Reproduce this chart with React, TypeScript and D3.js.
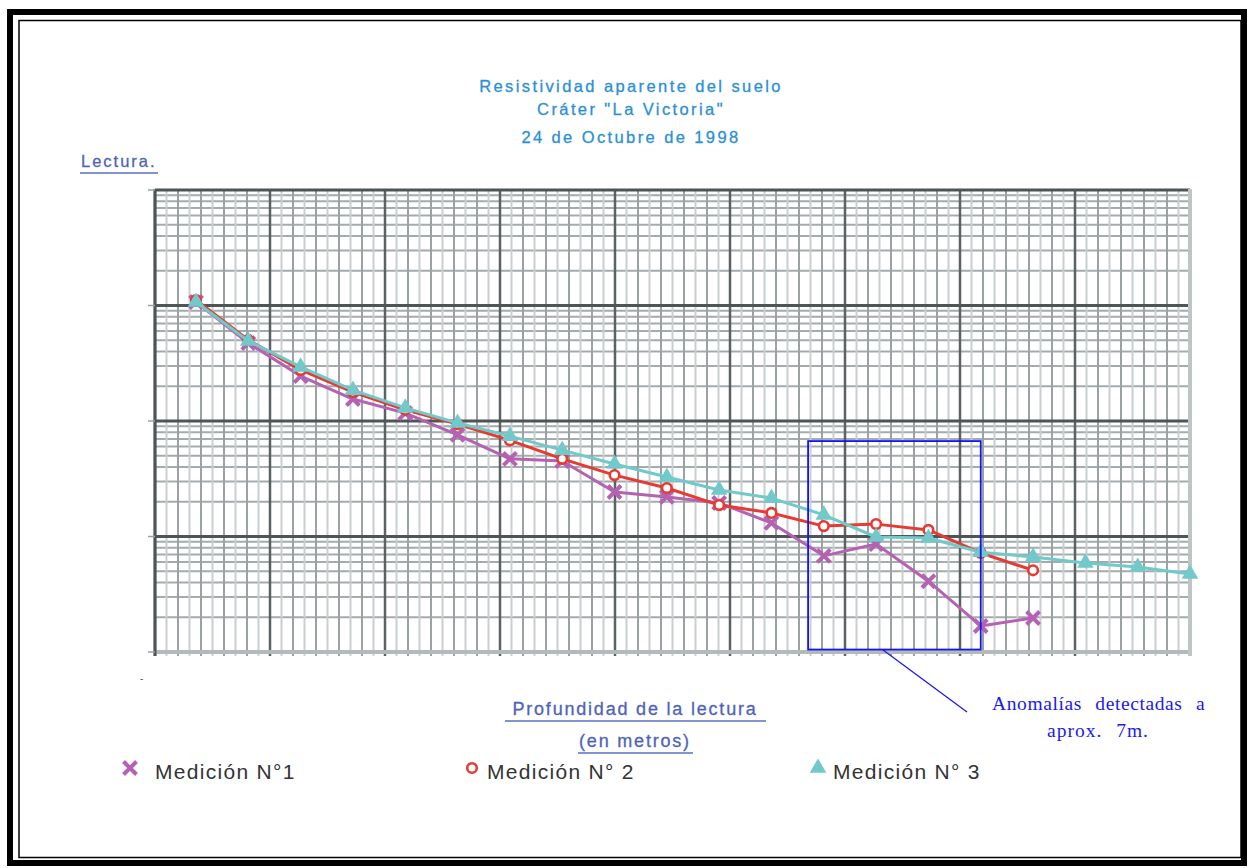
import * as d3 from "d3";

// depth of each reading (m)
const depths = [0.5, 1, 1.5, 2, 2.5, 3, 3.5, 4, 4.5, 5, 5.5, 6, 6.5, 7, 7.5, 8, 8.5, 9, 9.5, 10];

// apparent resistivity readings
const medicion1 = [1072, 473, 245, 155, 117, 76, 47, 45, 24.3, 22, 19.5, 13.1, 6.8, 8.6, 4.1, 1.68, 1.97];
const medicion2 = [1116, 503, 277, 178, 125, 94, 68, 47, 34, 26.3, 18.7, 16, 12.3, 12.8, 11.4, 7.2, 5.1];
const medicion3 = [1072, 493, 294, 185, 130, 96, 74, 56, 42.4, 32.7, 25.3, 21.5, 15.4, 9.9, 9.7, 7.3, 6.65, 5.9, 5.44, 4.73];

const seriesNames = ["Medición N°1", "Medición N° 2", "Medición N° 3"];
const titleLines = ["Resistividad aparente del suelo", "Cráter \"La Victoria\"", "24 de Octubre de 1998"];

// anomaly box (depth range, value range)
const anomalyDepth = [6.35, 8.0];
const anomalyValue = [1.05, 67];

const W = 1250;
const H = 868;
const plot = { left: 155, right: 1190, top: 190, bottom: 652 };

const colors = ["#b462b2", "#e63a33", "#72c9ca"];

function Marker({ kind, cx, cy }: { kind: number; cx: number; cy: number }) {
  if (kind === 0) {
    const s = 6.5;
    return (
      <path
        d={`M${cx - s},${cy - s}L${cx + s},${cy + s}M${cx - s},${cy + s}L${cx + s},${cy - s}`}
        stroke={colors[0]}
        strokeWidth={4}
        fill="none"
      />
    );
  }
  if (kind === 1) {
    return <circle cx={cx} cy={cy} r={4.8} fill="#fff" stroke={colors[1]} strokeWidth={2.6} />;
  }
  return (
    <path
      transform={`translate(${cx},${cy})`}
      d={d3.symbol(d3.symbolTriangle, 120)() || ""}
      fill={colors[2]}
    />
  );
}

export default function App() {
  const x = d3
    .scaleLinear()
    .domain([depths[0], depths[depths.length - 1]])
    .range([plot.left + 41, plot.right]);
  const y = d3.scaleLog().domain([1, 10000]).range([plot.bottom, plot.top]);

  // graph paper: 9 cells of 10 divisions across, 4 log decades up
  const gx = d3.scaleLinear().domain([0, 90]).range([plot.left, plot.right]);
  const vLines = d3.range(0, 91);
  const hMajor = [1, 10, 100, 1000, 10000];
  const hMinor: number[] = [];
  hMajor.slice(0, 4).forEach((p) => {
    for (let m = 2; m <= 9; m++) hMinor.push(p * m);
  });

  const series = [medicion1, medicion2, medicion3].map((vals) =>
    vals.map((v, i) => ({ d: depths[i], v }))
  );
  const line = d3
    .line<{ d: number; v: number }>()
    .x((p) => x(p.d))
    .y((p) => y(p.v));

  const bx0 = x(anomalyDepth[0]);
  const bx1 = x(anomalyDepth[1]);
  const by0 = y(anomalyValue[1]);
  const by1 = y(anomalyValue[0]);

  const legendX = [130, 472, 818];
  const legendY = 768;
  const sans = "Liberation Sans, Arial, sans-serif";

  return (
    <div style={{ position: "absolute", left: 0, top: 0 }}>
      <svg width={W} height={H} style={{ display: "block", background: "#fff" }}>
        {/* frame */}
        <rect x={10} y={12} width={1234} height={851} fill="none" stroke="#000" strokeWidth={6} />
        <rect x={19} y={20.5} width={1222} height={837} fill="none" stroke="#000" strokeWidth={1.5} />

        {/* title */}
        <g fill="#2b90d4" fontFamily={sans} fontSize={16.5} textAnchor="middle" letterSpacing={2.4} stroke="#2b90d4" strokeWidth={0.3}>
          <text x={631} y={92}>{titleLines[0]}</text>
          <text x={631} y={115}>{titleLines[1]}</text>
          <text x={631} y={143}>{titleLines[2]}</text>
        </g>

        {/* y label */}
        <text x={81} y={167} fill="#4f63b8" fontFamily={sans} fontSize={16.5} letterSpacing={2} stroke="#4f63b8" strokeWidth={0.3}>
          Lectura.
        </text>
        <line x1={80} x2={158} y1={173} y2={173} stroke="#5a6ec0" strokeWidth={1.5} />

        {/* grid */}
        <g>
          {hMinor.map((v) => (
            <line key={"hm" + v} x1={plot.left} x2={plot.right} y1={y(v)} y2={y(v)} stroke="#a3abac" strokeWidth={2} />
          ))}
          {vLines.map((i) => (
            <line
              key={"v" + i}
              x1={gx(i)}
              x2={gx(i)}
              y1={plot.top}
              y2={plot.bottom + 4}
              stroke={i % 10 === 0 ? "#5a6263" : i % 2 === 0 ? "#9aa2a3" : "#c9cecf"}
              strokeWidth={i % 10 === 0 ? 2.5 : 2}
            />
          ))}
          {hMajor.map((v) => (
            <line
              key={"hM" + v}
              x1={plot.left}
              x2={plot.right}
              y1={y(v)}
              y2={y(v)}
              stroke={v === 1 ? "#b4babb" : "#4d5556"}
              strokeWidth={v === 1 ? 4 : 3}
            />
          ))}
          <line x1={plot.left} x2={plot.left} y1={plot.top - 1} y2={plot.bottom + 4} stroke="#4d5556" strokeWidth={3} />
          <line x1={plot.right} x2={plot.right} y1={plot.top - 1} y2={plot.bottom + 4} stroke="#bfc4c5" strokeWidth={4} />
          {hMajor.map((v) => (
            <line key={"t" + v} x1={plot.left - 7} x2={plot.left} y1={y(v)} y2={y(v)} stroke="#9aa0a1" strokeWidth={1.5} />
          ))}
        </g>
        <text x={140} y={682} fontSize={10} fill="#555" fontFamily={sans}>-</text>

        {/* series */}
        {series.map((s, k) => (
          <g key={"s" + k}>
            <path d={line(s) || ""} fill="none" stroke={colors[k]} strokeWidth={3} strokeLinejoin="round" />
            {s.map((p, i) => (
              <Marker key={i} kind={k} cx={x(p.d)} cy={y(p.v)} />
            ))}
          </g>
        ))}

        {/* anomaly box + callout */}
        <rect x={bx0} y={by0} width={bx1 - bx0} height={by1 - by0} fill="none" stroke="#1414f0" strokeWidth={1.8} />
        <line x1={(bx0 + bx1) / 2 - 12} y1={by1} x2={967} y2={712} stroke="#1414f0" strokeWidth={1.2} />
        <g fill="#1a1af0" fontFamily="Liberation Serif, Times New Roman, serif" fontSize={19.5}>
          <text x={992} y={710} letterSpacing={0.6} wordSpacing={8}>Anomalías detectadas a</text>
          <text x={1098} y={737} textAnchor="middle" letterSpacing={1} wordSpacing={8}>aprox. 7m.</text>
        </g>

        {/* x title */}
        <g fill="#4f63b8" fontFamily={sans} fontSize={18} textAnchor="middle" letterSpacing={1.8} stroke="#4f63b8" strokeWidth={0.3}>
          <text x={635} y={715}>Profundidad de la lectura</text>
          <text x={635} y={747}>(en metros)</text>
        </g>
        <line x1={505} x2={766} y1={721} y2={721} stroke="#5a6ec0" strokeWidth={1.5} />
        <line x1={578} x2={693} y1={753} y2={753} stroke="#5a6ec0" strokeWidth={1.5} />

        {/* legend */}
        {seriesNames.map((name, k) => (
          <g key={"l" + k}>
            <Marker kind={k} cx={legendX[k]} cy={legendY} />
            <text
              x={legendX[k] + (k === 0 ? 25 : 15)}
              y={779}
              fill="#333"
              fontFamily={sans}
              fontSize={21}
              letterSpacing={1.3}
            >
              {name}
            </text>
          </g>
        ))}
      </svg>
    </div>
  );
}
